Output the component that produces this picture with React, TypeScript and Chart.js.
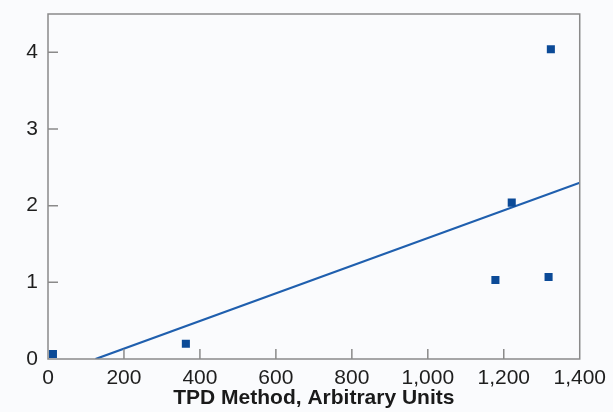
import React, { useEffect, useRef } from "react";
import { Chart, registerables } from "chart.js";

Chart.register(...registerables);

const tpdValues = [13, 363, 1178, 1221, 1318, 1324];
const measuredValues = [0.065, 0.2, 1.03, 2.04, 1.07, 4.04];
const fitX = [125, 1400];
const fitY = [0, 2.3];
const xTickValues = [200, 400, 600, 800, 1000, 1200];
const yTickValues = [1, 2, 3, 4];
const xTitle = "TPD Method, Arbitrary Units";

const FONT = "'Liberation Sans', Arial, Helvetica, sans-serif";

const framePlugin = {
  id: "frame",
  beforeDraw(chart: any) {
    const { ctx, width, height } = chart;
    ctx.save();
    ctx.fillStyle = "#fafbfd";
    ctx.fillRect(0, 0, width, height);
    ctx.restore();
  },
  afterDatasetsDraw(chart: any) {
    const { ctx, chartArea, scales } = chart;
    const { left, right, top, bottom } = chartArea;
    ctx.save();
    ctx.strokeStyle = "#8a8a8a";
    ctx.lineWidth = 1.5;
    ctx.strokeRect(left, top, right - left, bottom - top);
    ctx.beginPath();
    xTickValues.forEach((v) => {
      const px = scales.x.getPixelForValue(v);
      ctx.moveTo(px, bottom);
      ctx.lineTo(px, bottom - 10);
    });
    yTickValues.forEach((v) => {
      const py = scales.y.getPixelForValue(v);
      ctx.moveTo(left, py);
      ctx.lineTo(left + 10, py);
    });
    ctx.stroke();
    ctx.restore();
  },
};

export default function App() {
  const ref = useRef<HTMLCanvasElement | null>(null);

  useEffect(() => {
    document.body.style.margin = "0";
    const canvas = ref.current;
    if (!canvas) return;
    const points = tpdValues.map((x, i) => ({ x, y: measuredValues[i] }));
    const fit = fitX.map((x, i) => ({ x, y: fitY[i] }));
    const chart = new Chart(canvas, {
      type: "scatter",
      data: {
        datasets: [
          {
            data: points,
            pointStyle: "rect",
            pointRadius: 5.7,
            pointHoverRadius: 5.7,
            backgroundColor: "#0b4a97",
            borderColor: "#0b4a97",
            borderWidth: 0,
          },
          {
            type: "line",
            data: fit,
            showLine: true,
            pointRadius: 0,
            borderColor: "#1f5fae",
            borderWidth: 2.2,
            fill: false,
          },
        ],
      },
      options: {
        animation: false,
        responsive: false,
        events: [],
        layout: { padding: { top: 14, right: 33, left: 0, bottom: 0 } },
        plugins: {
          legend: { display: false },
          tooltip: { enabled: false },
          title: { display: false },
        },
        scales: {
          x: {
            type: "linear",
            min: 0,
            max: 1400,
            grid: { display: false, drawTicks: false },
            border: { display: false },
            ticks: {
              stepSize: 200,
              padding: 7,
              color: "#1e1e1e",
              font: { family: FONT, size: 21 },
              maxRotation: 0,
              autoSkip: false,
            },
            title: {
              display: true,
              text: xTitle,
              color: "#1a1a1a",
              font: { family: FONT, size: 21, weight: "bold" },
              padding: { top: 0, bottom: 1 },
            },
            afterFit(scale: any) {
              scale.height = 53;
            },
          },
          y: {
            type: "linear",
            min: 0,
            max: 4.5,
            grid: { display: false, drawTicks: false },
            border: { display: false },
            ticks: {
              stepSize: 1,
              padding: 10,
              color: "#1e1e1e",
              font: { family: FONT, size: 21, lineHeight: 0.3 },
            },
            afterBuildTicks(scale: any) {
              scale.ticks = scale.ticks.filter((t: any) => Number.isInteger(t.value));
            },
            afterFit(scale: any) {
              scale.width = 48;
            },
          },
        },
      },
      plugins: [framePlugin],
    } as any);
    return () => chart.destroy();
  }, []);

  return (
    <div style={{ position: "absolute", left: 0, top: 0, width: 613, height: 412 }}>
      <canvas ref={ref} width={613} height={412} style={{ width: 613, height: 412 }} />
    </div>
  );
}
